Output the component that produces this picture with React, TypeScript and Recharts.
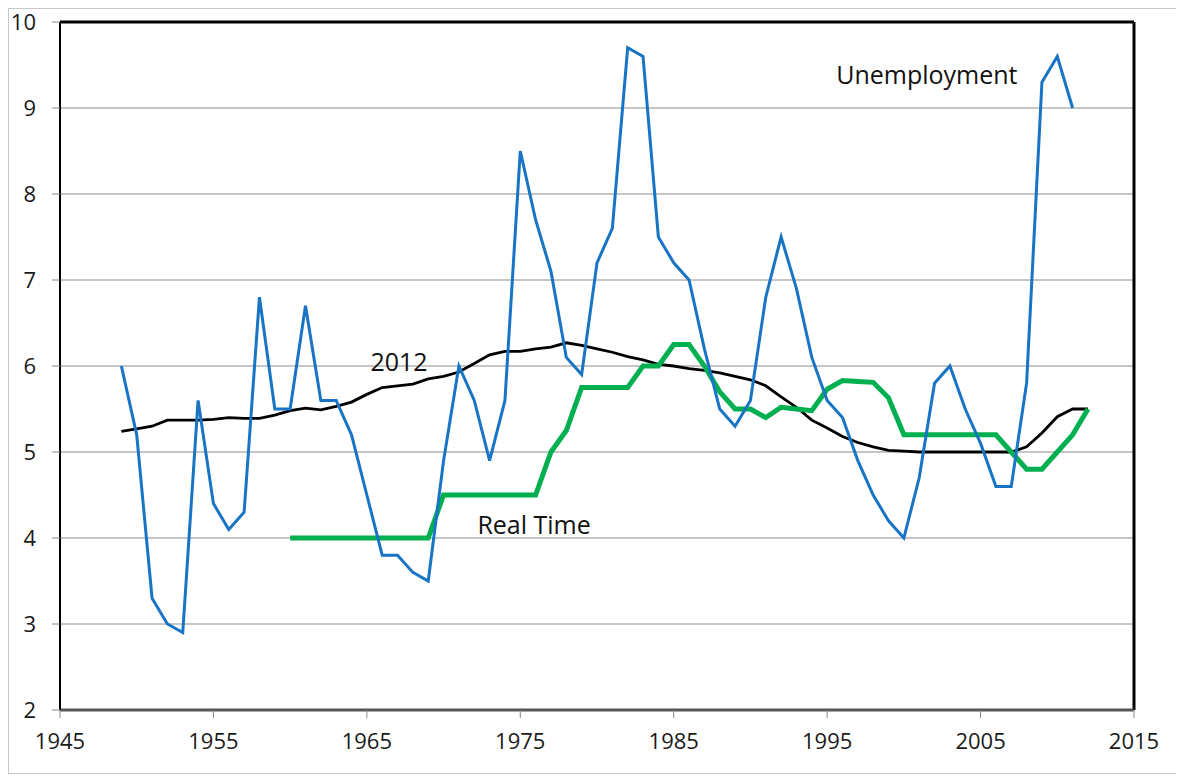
import { LineChart, Line, XAxis, YAxis, CartesianGrid, ReferenceLine, ReferenceDot, Label } from 'recharts'

const firstYear = 1949
const lastYear = 2012

// annual unemployment rate, 1949-2011
const unemployment = [
  6.0, 5.2, 3.3, 3.0, 2.9, 5.6, 4.4, 4.1, 4.3, 6.8,
  5.5, 5.5, 6.7, 5.6, 5.6, 5.2, 4.5, 3.8, 3.8, 3.6,
  3.5, 4.9, 6.0, 5.6, 4.9, 5.6, 8.5, 7.7, 7.1, 6.1,
  5.9, 7.2, 7.6, 9.7, 9.6, 7.5, 7.2, 7.0, 6.2, 5.5,
  5.3, 5.6, 6.8, 7.5, 6.9, 6.1, 5.6, 5.4, 4.9, 4.5,
  4.2, 4.0, 4.7, 5.8, 6.0, 5.5, 5.1, 4.6, 4.6, 5.8,
  9.3, 9.6, 9.0,
]

// real-time estimate, 1960-2012
const realTimeStart = 1960
const realTime = [
  4.0, 4.0, 4.0, 4.0, 4.0, 4.0, 4.0, 4.0, 4.0, 4.0,
  4.5, 4.5, 4.5, 4.5, 4.5, 4.5, 4.5, 5.0, 5.25, 5.75,
  5.75, 5.75, 5.75, 6.0, 6.0, 6.25, 6.25, 6.0, 5.7, 5.5,
  5.5, 5.4, 5.52, 5.5, 5.48, 5.73, 5.83, 5.82, 5.81, 5.63,
  5.2, 5.2, 5.2, 5.2, 5.2, 5.2, 5.2, 5.0, 4.8, 4.8,
  5.0, 5.2, 5.5,
]

// 2012 vintage estimate, 1949-2012
const vintage2012 = [
  5.24, 5.27, 5.3, 5.37, 5.37, 5.37, 5.38, 5.4, 5.39, 5.39, 5.43,
  5.48, 5.51, 5.49, 5.53, 5.58, 5.67, 5.75, 5.77, 5.79, 5.85,
  5.88, 5.93, 6.03, 6.13, 6.17, 6.17, 6.2, 6.22, 6.27, 6.24,
  6.2, 6.16, 6.11, 6.07, 6.02, 6.0, 5.97, 5.95, 5.92, 5.88,
  5.84, 5.77, 5.64, 5.52, 5.37, 5.28, 5.18, 5.11, 5.06, 5.02,
  5.01, 5.0, 5.0, 5.0, 5.0, 5.0, 5.0, 5.0, 5.06, 5.22,
  5.41, 5.5, 5.5,
]

const xTicks = [1945, 1955, 1965, 1975, 1985, 1995, 2005, 2015]
const yTicks = [2, 3, 4, 5, 6, 7, 8, 9, 10]

const annotations = [
  { text: 'Unemployment', year: 2001.5, value: 9.38 },
  { text: '2012', year: 1967.1, value: 6.05 },
  { text: 'Real Time', year: 1975.9, value: 4.15 },
]

const data = []
for (let year = firstYear; year <= lastYear; year++) {
  const i = year - firstYear
  const r = year - realTimeStart
  data.push({
    year,
    unemployment: i < unemployment.length ? unemployment[i] : null,
    realTime: r >= 0 && r < realTime.length ? realTime[r] : null,
    vintage2012: vintage2012[i],
  })
}

const font = '"Open Sans", sans-serif'
const tickStyle = { fontSize: 22, fill: '#1a1a1a', fontFamily: font }

export default function App() {
  return (
    <div
      style={{
        width: 1175,
        height: 766,
        border: '1px solid #c8c8c8',
        boxSizing: 'border-box',
        background: '#fff',
        fontFamily: font,
      }}
    >
      <div style={{ marginTop: -9 }}>
        <LineChart
          width={1160}
          height={770}
          data={data}
          margin={{ top: 22, right: 35, left: 0, bottom: 0 }}
        >
          <CartesianGrid horizontal vertical={false} stroke="#8c8c8c" strokeWidth={1} />
          <XAxis
            dataKey="year"
            type="number"
            domain={[1945, 2015]}
            ticks={xTicks}
            height={60}
            tickSize={8}
            tickMargin={15}
            tick={tickStyle}
            axisLine={{ stroke: '#555', strokeWidth: 3 }}
            tickLine={{ stroke: '#888' }}
          />
          <YAxis
            type="number"
            domain={[2, 10]}
            ticks={yTicks}
            width={51}
            tickSize={8}
            tickMargin={16}
            tick={tickStyle}
            axisLine={{ stroke: '#000', strokeWidth: 2 }}
            tickLine={{ stroke: '#888' }}
          />
          <ReferenceLine y={10} stroke="#000" strokeWidth={3} />
          <ReferenceLine x={2015} stroke="#000" strokeWidth={3} />
          <Line
            dataKey="vintage2012"
            type="linear"
            stroke="#000"
            strokeWidth={2.8}
            dot={false}
            isAnimationActive={false}
          />
          <Line
            dataKey="realTime"
            type="linear"
            stroke="#00b050"
            strokeWidth={5}
            dot={false}
            isAnimationActive={false}
          />
          <Line
            dataKey="unemployment"
            type="linear"
            stroke="#1874c4"
            strokeWidth={3}
            dot={false}
            isAnimationActive={false}
          />
          {annotations.map((a) => (
            <ReferenceDot key={a.text} x={a.year} y={a.value} r={0} fill="none" stroke="none">
              <Label value={a.text} position="center" fill="#111" fontSize={25} fontFamily={font} />
            </ReferenceDot>
          ))}
        </LineChart>
      </div>
    </div>
  )
}
